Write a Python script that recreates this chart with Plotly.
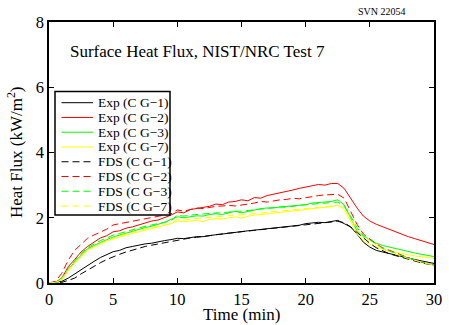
import plotly.graph_objects as go

time_min = [i * 0.5 for i in range(61)]

exp_cg1 = [0, 0.02, 0.05, 0.15, 0.28, 0.42, 0.55, 0.66, 0.78, 0.88, 0.96, 1.0, 1.08, 1.12, 1.17, 1.2, 1.22, 1.27, 1.3, 1.33,
           1.37, 1.36, 1.4, 1.42, 1.42, 1.46, 1.48, 1.5, 1.53, 1.55, 1.58, 1.6, 1.62, 1.64, 1.66, 1.68, 1.7, 1.72, 1.74, 1.77,
           1.82, 1.84, 1.86, 1.85, 1.88, 1.92, 1.82, 1.72, 1.5, 1.25, 1.1, 1.0, 0.95, 0.9, 0.86, 0.82, 0.76, 0.72, 0.68, 0.64, 0.6]
exp_cg2 = [0, 0.02, 0.15, 0.5, 0.72, 0.95, 1.12, 1.25, 1.38, 1.45, 1.57, 1.6, 1.68, 1.72, 1.78, 1.85, 1.9, 1.93, 2.0, 2.08,
           2.18, 2.15, 2.25, 2.28, 2.32, 2.35, 2.42, 2.4, 2.48, 2.5, 2.55, 2.52, 2.62, 2.6, 2.68, 2.72, 2.75, 2.8, 2.85, 2.9,
           2.95, 2.98, 3.02, 3.0, 3.05, 3.05, 2.9, 2.6, 2.3, 2.05, 1.9, 1.8, 1.72, 1.65, 1.57, 1.5, 1.42, 1.36, 1.3, 1.24, 1.18]
exp_cg3 = [0, 0.02, 0.1, 0.4, 0.65, 0.85, 1.05, 1.15, 1.25, 1.33, 1.41, 1.47, 1.52, 1.6, 1.66, 1.7, 1.74, 1.8, 1.86, 1.95,
           2.03, 2.0, 2.04, 2.06, 2.05, 2.1, 2.12, 2.1, 2.15, 2.2, 2.15, 2.2, 2.25, 2.28, 2.3, 2.3, 2.33, 2.35, 2.38, 2.4,
           2.4, 2.45, 2.46, 2.48, 2.5, 2.55, 2.4, 2.0, 1.6, 1.42, 1.32, 1.22, 1.15, 1.1, 1.06, 1.0, 0.95, 0.92, 0.88, 0.85, 0.81]
exp_cg7 = [0, 0.02, 0.1, 0.38, 0.6, 0.8, 1.0, 1.1, 1.2, 1.28, 1.35, 1.42, 1.47, 1.52, 1.57, 1.62, 1.66, 1.7, 1.76, 1.82,
           1.9, 1.88, 1.9, 1.92, 1.88, 1.95, 1.97, 1.96, 2.0, 2.03, 1.99, 2.05, 2.08, 2.1, 2.12, 2.13, 2.16, 2.18, 2.2, 2.22,
           2.25, 2.28, 2.3, 2.3, 2.34, 2.39, 2.25, 1.9, 1.5, 1.3, 1.18, 1.1, 1.04, 0.98, 0.95, 0.9, 0.86, 0.83, 0.8, 0.78, 0.76]

fds_cg1 = [0, 0, 0.02, 0.08, 0.15, 0.28, 0.4, 0.52, 0.62, 0.72, 0.81, 0.88, 0.95, 1.01, 1.07, 1.12, 1.16, 1.2, 1.24, 1.28,
           1.32, 1.35, 1.38, 1.4, 1.43, 1.45, 1.48, 1.5, 1.53, 1.55, 1.57, 1.6, 1.62, 1.64, 1.66, 1.68, 1.7, 1.72, 1.74, 1.76,
           1.79, 1.81, 1.83, 1.85, 1.87, 1.89, 1.85, 1.72, 1.55, 1.38, 1.22, 1.08, 0.98, 0.9, 0.84, 0.78, 0.72, 0.67, 0.62, 0.58, 0.55]
fds_cg2 = [0, 0.05, 0.3, 0.7, 1.0, 1.2, 1.37, 1.47, 1.57, 1.65, 1.78, 1.82, 1.86, 1.9, 1.93, 1.97, 2.0, 2.05, 2.1, 2.12,
           2.24, 2.2, 2.25, 2.3, 2.28, 2.32, 2.35, 2.36, 2.38, 2.36, 2.4, 2.42, 2.45, 2.5, 2.48, 2.52, 2.55, 2.56, 2.6, 2.58,
           2.62, 2.64, 2.68, 2.7, 2.72, 2.72, 2.6, 2.2, 1.8, 1.5, 1.35, 1.2, 1.08, 1.0, 0.92, 0.84, 0.78, 0.7, 0.64, 0.6, 0.55]
fds_cg3 = [0, 0.02, 0.15, 0.45, 0.68, 0.9, 1.08, 1.2, 1.3, 1.38, 1.47, 1.52, 1.58, 1.64, 1.7, 1.74, 1.78, 1.82, 1.86, 1.9,
           2.08, 2.05, 2.08, 2.1, 2.12, 2.13, 2.15, 2.15, 2.18, 2.2, 2.2, 2.22, 2.24, 2.27, 2.28, 2.3, 2.33, 2.32, 2.36, 2.38,
           2.4, 2.42, 2.44, 2.45, 2.47, 2.48, 2.35, 2.05, 1.7, 1.45, 1.32, 1.18, 1.06, 0.98, 0.9, 0.84, 0.77, 0.7, 0.65, 0.6, 0.55]
fds_cg7 = [0, 0.02, 0.12, 0.4, 0.62, 0.83, 1.0, 1.12, 1.22, 1.3, 1.38, 1.44, 1.5, 1.56, 1.62, 1.66, 1.7, 1.74, 1.78, 1.82,
           1.95, 1.93, 1.96, 1.98, 2.0, 2.01, 2.03, 2.04, 2.06, 2.08, 2.09, 2.11, 2.13, 2.15, 2.17, 2.19, 2.21, 2.22, 2.25, 2.27,
           2.29, 2.31, 2.33, 2.35, 2.37, 2.38, 2.28, 2.0, 1.65, 1.42, 1.3, 1.16, 1.04, 0.96, 0.88, 0.82, 0.75, 0.69, 0.64, 0.59, 0.55]

series = [
    ("Exp (C G\u22121)", exp_cg1, "#000000", "solid"),
    ("Exp (C G\u22122)", exp_cg2, "#ff0000", "solid"),
    ("Exp (C G\u22123)", exp_cg3, "#00ff00", "solid"),
    ("Exp (C G\u22127)", exp_cg7, "#ffff00", "solid"),
    ("FDS (C G\u22121)", fds_cg1, "#000000", "7px,4px"),
    ("FDS (C G\u22122)", fds_cg2, "#ff0000", "7px,4px"),
    ("FDS (C G\u22123)", fds_cg3, "#00ff00", "7px,4px"),
    ("FDS (C G\u22127)", fds_cg7, "#ffff00", "7px,4px"),
]

font = "Liberation Serif"
fig = go.Figure()
for name, ys, col, dash in series:
    fig.add_trace(go.Scatter(x=time_min, y=ys, name=name, mode="lines", showlegend=False,
                             line=dict(color=col, width=1, dash=dash)))

# Manual legend (MATLAB-style compact box), paper coordinates
PX0, PW, PY1, PH = 49, 385, 283, 261
def px(x):
    return (x - PX0) / PW
def py(y):
    return (PY1 - y) / PH

shapes = [dict(type="rect", xref="paper", yref="paper", x0=px(55), x1=px(170), y0=py(215), y1=py(91.5),
               fillcolor="white", line=dict(color="black", width=1.5), layer="above")]
annotations = []
for i, (name, ys, col, dash) in enumerate(series):
    yy = py(102.7 + 14.76 * i)
    shapes.append(dict(type="line", xref="paper", yref="paper", x0=px(61.5), x1=px(93), y0=yy, y1=yy,
                       line=dict(color=col, width=1, dash=dash), layer="above"))
    annotations.append(dict(text=name, xref="paper", yref="paper", x=px(95.5), y=yy, xanchor="left",
                            yanchor="middle", showarrow=False, font=dict(family=font, size=13.5, color="black")))

annotations += [
    dict(text="Surface Heat Flux, NIST/NRC Test 7", xref="paper", yref="paper", x=px(68), y=py(52),
         xanchor="left", yanchor="middle", showarrow=False, font=dict(family=font, size=17)),
    dict(text="SVN 22054", xref="paper", yref="paper", x=px(408), y=py(11), xanchor="right", yanchor="middle",
         showarrow=False, font=dict(family=font, size=10)),
    dict(text="Time (min)", xref="paper", yref="paper", x=px(242), y=py(314), xanchor="center", yanchor="middle",
         showarrow=False, font=dict(family=font, size=17)),
    dict(text="Heat Flux (kW/m<sup>2</sup>)", xref="paper", yref="paper", x=px(15), y=py(152), xanchor="center",
         yanchor="middle", textangle=-90, showarrow=False, font=dict(family=font, size=17)),
]

axis_common = dict(showline=True, linecolor="black", linewidth=1.5, mirror="ticks", automargin=False,
                   ticks="inside", ticklen=5, tickcolor="black", tickwidth=1,
                   showgrid=False, zeroline=False, tickfont=dict(family=font, size=16.5, color="black"))
fig.update_layout(
    width=449, height=325,
    margin=dict(l=49, r=15, t=22, b=42),
    paper_bgcolor="white", plot_bgcolor="white",
    font=dict(family=font, color="black"),
    showlegend=False,
    xaxis=dict(range=[0, 30], tickvals=[0, 5, 10, 15, 20, 25, 30], **axis_common),
    yaxis=dict(range=[0, 8], tickvals=[0, 2, 4, 6, 8], **axis_common),
    shapes=shapes,
    annotations=annotations,
)
fig.write_html("out.html", config={"displayModeBar": False},
               post_script="document.body.style.margin='0';")
